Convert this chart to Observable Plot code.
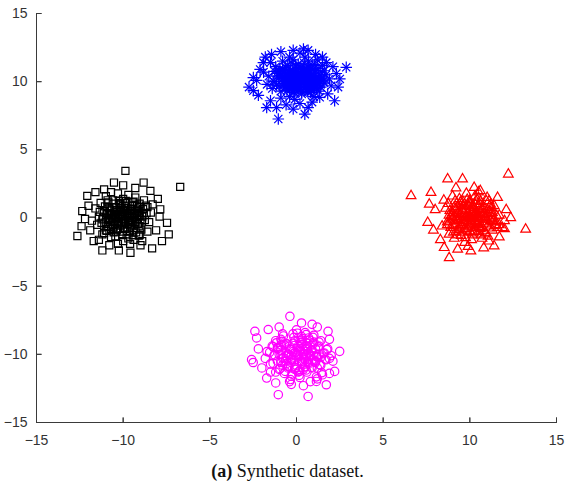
<!DOCTYPE html>
<html>
<head>
<meta charset="utf-8">
<script src="https://cdn.jsdelivr.net/npm/d3@7"></script>
<script src="https://cdn.jsdelivr.net/npm/@observablehq/plot@0.6"></script>
<style>
  body { margin: 0; background: #fff; }
  #wrap { width: 565px; }
  #cap { box-sizing: border-box; padding-left: 10px; text-align: center; font-family: "Liberation Serif", "Times New Roman", serif; font-size: 18px; line-height: 20px; margin-top: 11px; color: #111; }
</style>
</head>
<body>
<div id="wrap"><div id="chart"></div><div id="cap"><b>(a)</b> Synthetic dataset.</div></div>
<script>
const xTicks = [-15, -10, -5, 0, 5, 10, 15];
const yTicks = [-15, -10, -5, 0, 5, 10, 15];

// Blue asterisks (top cluster)
const blueX = [2.87,-2.49,-2.49,-2.74,-1.72,-1.05,-1.15,-0.19,0.48,0.67,2.2,2.4,2.0,-1.44,-0.19,0.67,1.72,-1.91,1.34,
  -2.1,-1.8,0.2,1.1,1.5,2.3,2.5,-2.2,-1.5,-0.6,0.9,1.8,-0.9,0.4,-2.3,
  0.1,-0.3,0.5,0.8,-0.7,0.2,-0.1,1.2,-1.1,0.6,-0.5,0.3,1.0,-0.9,1.4,-1.3,0.0,0.7,-0.4,1.6,-1.6,0.9,-0.2,1.3,-0.8,0.4,
  -0.6,1.1,0.2,-1.2,1.7,-0.3,0.6,-1.0,0.9,0.1,-1.4,1.5,-0.5,0.3,-0.1,1.9,-1.7,0.7,-0.8,1.2,0.0,-0.4,0.5,1.0,-1.9,0.8,
  -0.2,1.4,-1.5,0.2,-0.9,2.1,0.4,-0.6,
  0.15,-0.25,0.45,0.75,-0.55,0.35,-0.05,1.05,-0.85,0.55,-0.35,0.25,0.85,-0.65,1.25,-1.05,0.05,0.65,-0.15,1.35,
  -1.25,0.95,-0.05,1.15,-0.45,0.45,-0.75,0.95,0.15,-0.95,1.45,-0.15,0.55,-0.55,0.75,0.25,-1.15,1.25,-0.35,0.35,
  0.05,1.55,-1.35,0.65,-0.65,1.05,0.15,-0.25,0.45,0.85,-0.45,0.65,-0.1,1.15,-1.0,0.3,-0.7,1.6,0.5,-0.3,
  0.2,-0.1,0.6,0.9,-0.4,0.4,0.0,1.0,-0.6,0.7,-0.2,0.5,0.8,-0.5,1.1,-0.8,0.3,0.6,-0.3,1.2,
  -0.9,0.8,0.1,1.0,-0.2,0.5,-0.4,0.9,0.3,-0.7,1.3,0.0,0.6,-0.1,0.7,0.4,-0.6,1.1,-0.2,0.2];
const blueY = [11.05,10.3,9.34,9.6,8.1,7.26,8.1,7.99,7.62,8.1,8.6,9.6,9.7,12.0,12.3,12.3,11.4,11.4,8.85,
  10.9,11.8,12.1,12.0,11.8,10.6,10.2,9.0,8.6,8.3,8.5,9.1,12.2,12.4,10.1,
  10.2,10.5,9.8,10.4,9.9,11.0,9.4,10.1,10.6,10.9,11.2,9.1,9.5,9.3,10.7,10.0,10.7,11.5,8.9,9.9,10.4,11.2,11.6,9.3,10.9,10.3,
  9.6,10.8,9.6,11.1,10.5,10.0,9.4,9.7,9.9,11.3,9.5,11.2,10.3,10.6,8.7,10.2,9.8,10.1,11.5,11.6,9.9,11.8,11.8,8.9,10.7,9.2,
  9.2,9.6,11.4,8.4,8.8,11.1,10.9,10.6,
  10.05,10.35,9.95,10.25,10.15,10.75,9.75,10.45,10.45,10.55,10.85,9.45,9.65,9.55,10.15,10.25,10.45,11.05,9.25,9.85,
  10.75,10.85,11.15,9.45,10.65,10.15,9.85,10.05,9.85,10.95,10.35,10.15,9.65,9.35,9.85,11.05,9.75,10.95,10.45,10.45,
  9.55,10.05,10.05,10.35,11.05,11.25,10.25,11.35,11.35,9.35,9.75,9.25,10.6,9.75,10.6,9.25,10.3,10.8,10.7,9.6,
  10.1,10.3,9.9,10.2,10.0,10.6,9.8,10.4,10.3,10.6,10.7,9.6,9.8,9.7,10.0,10.2,10.4,10.9,9.5,9.9,
  10.6,10.7,11.0,9.7,10.5,10.2,9.9,10.1,9.9,10.8,10.3,10.1,9.7,9.6,9.9,10.9,9.9,10.8,10.5,10.4];

// Black squares (left cluster)
const blackX = [-9.87,-6.71,-8.82,-10.53,-12.07,-12.64,-11.2,-10.25,-9.58,-8.33,-7.76,-7.37,-7.47,-7.86,-8.43,-12.36,-12.2,-11.7,
  -11.6,-11.1,-9.3,-8.0,-12.0,-11.9,-10.8,-9.0,-8.1,-7.9,-10.0,-12.4,
  -10.0,-10.4,-9.6,-9.2,-10.8,-9.9,-10.2,-8.9,-11.1,-9.5,-10.6,-9.8,-9.0,-11.0,-8.7,-11.4,-10.1,-9.3,-10.7,-8.5,
  -11.3,-9.4,-10.3,-9.7,-10.5,-9.1,-11.5,-8.8,-10.9,-9.6,-10.0,-9.2,-11.2,-8.6,-10.2,-9.5,-10.8,-9.9,-11.6,-8.4,
  -10.4,-9.0,-10.6,-9.7,-11.0,-9.3,-10.1,-8.9,-11.8,-10.3,-9.8,-10.9,-9.4,-8.3,-10.7,-9.1,-10.5,-11.4,-9.6,-10.0,
  -10.05,-10.35,-9.65,-9.35,-10.65,-9.85,-10.15,-9.05,-10.95,-9.55,-10.55,-9.75,-9.15,-10.85,-8.85,-11.15,-10.25,-9.45,-10.55,-8.75,
  -11.05,-9.45,-10.25,-9.75,-10.45,-9.25,-11.25,-9.05,-10.75,-9.55,-10.05,-9.35,-10.95,-8.95,-10.15,-9.65,-10.65,-9.95,-11.35,-8.65,
  -10.35,-9.15,-10.75,-9.85,-10.85,-9.45,-10.15,-9.05,-11.2,-10.45,-9.9,-10.6,-9.3,-8.6,-10.9,-9.2,-10.5,-11.1,-9.7,-10.2,
  -9.9,-10.2,-9.7,-9.4,-10.5,-9.8,-10.1,-9.2,-10.7,-9.6,-10.4,-9.9,-9.3,-10.6,-9.1,-10.9,-10.0,-9.5,-10.3,-9.0,
  -10.8,-9.6,-10.1,-9.8,-10.3,-9.4,-11.0,-9.2,-10.5,-9.7,-10.0,-9.5,-10.7,-9.1,-10.2,-9.7,-10.4,-9.9,-10.9,-8.9];
const blackY = [3.46,2.28,2.6,2.6,1.62,-1.32,-2.38,-2.38,-2.55,-2.23,-1.69,-1.2,-0.35,0.64,1.99,0.51,-0.07,-1.69,
  1.9,2.1,2.2,1.4,0.9,-0.9,-2.0,-2.0,-0.9,0.1,2.4,-0.6,
  0.2,0.6,-0.3,0.4,-0.1,1.1,-0.8,0.1,0.5,0.9,1.3,-1.2,-0.7,-0.9,0.9,0.1,-0.4,1.5,-1.4,-0.3,
  1.1,-1.6,1.8,0.5,-0.3,-1.3,-0.5,1.3,0.8,-0.7,-1.7,-0.1,-1.2,-1.0,1.0,0.0,0.3,-0.1,0.7,0.4,
  -1.0,0.8,0.0,1.7,1.6,-0.4,0.7,-1.7,-0.2,-1.9,0.3,-0.6,1.2,1.0,1.9,0.2,0.4,-1.6,-1.9,1.4,
  0.15,0.45,-0.15,0.25,-0.05,0.85,-0.55,0.15,0.35,0.65,1.05,-0.95,-0.45,-0.65,0.65,0.05,-0.25,1.15,-1.05,-0.15,
  0.85,-1.25,1.25,0.35,-0.45,-1.05,-0.35,1.05,0.55,-0.55,-1.25,0.05,-0.95,-0.85,0.75,0.15,0.25,-0.35,0.45,0.35,
  -0.85,0.55,-0.25,1.25,1.15,-0.25,0.45,-1.25,-0.1,-1.35,0.55,-0.7,0.9,0.8,1.3,0.35,0.2,-1.1,-1.5,1.1,
  0.1,0.3,-0.2,0.3,0.0,0.7,-0.4,0.2,0.2,0.5,0.8,-0.8,-0.3,-0.5,0.5,0.0,-0.1,0.9,-0.8,-0.1,
  0.7,-1.0,1.0,0.2,-0.3,-0.9,-0.3,0.9,0.4,-0.4,-1.0,0.0,-0.8,-0.6,0.6,0.1,0.1,-0.2,0.3,0.2];

// Red triangles (right cluster)
const redX = [6.61,7.76,8.72,9.58,12.22,13.22,12.36,11.88,11.4,8.81,8.52,10.06,7.57,7.66,10.25,11.11,
  10.6,9.2,8.0,7.9,8.3,9.3,10.8,11.7,12.0,12.1,11.6,9.9,
  10.0,10.4,9.6,10.8,9.3,10.2,9.8,11.0,9.1,10.6,9.5,10.9,8.8,11.3,10.1,9.4,11.2,8.9,10.5,9.7,
  11.5,10.3,9.0,10.7,9.2,11.4,8.6,10.0,9.9,10.4,11.1,9.6,8.7,10.2,11.7,9.3,10.8,9.8,10.6,8.5,
  11.0,9.5,10.1,9.1,11.3,10.3,8.8,9.7,10.9,11.6,9.0,10.5,8.4,10.0,9.4,11.2,10.7,9.6,12.0,10.2,
  10.05,10.45,9.65,10.75,9.35,10.25,9.85,10.95,9.15,10.55,9.55,10.85,8.95,11.25,10.15,9.45,11.15,9.05,10.45,9.75,
  11.35,10.35,9.15,10.65,9.35,11.25,8.85,10.05,9.95,10.35,11.05,9.65,8.85,10.25,11.55,9.45,10.75,9.85,10.55,8.75,
  10.95,9.55,10.15,9.25,11.15,10.35,9.05,9.75,10.85,11.45,9.2,10.5,8.7,10.0,9.5,11.0,10.6,9.7,11.7,10.2,
  10.1,10.3,9.8,10.6,9.5,10.2,9.9,10.8,9.3,10.5,9.7,10.7,9.1,11.0,10.0,9.6,11.0,9.2,10.4,9.9,
  11.2,10.3,9.4,10.5,9.5,11.1,9.0,10.1,10.0,10.4,10.9,9.8,9.0,10.3,11.3,9.6,10.6,10.0,10.4,9.3];
const redY = [1.62,1.86,2.85,2.85,3.21,-0.83,0.02,-0.71,-2.06,-2.92,-2.18,-2.43,-0.34,1.0,2.23,1.25,
  2.0,2.2,0.6,-0.9,-1.6,-2.3,-2.2,-1.4,-0.2,0.6,1.5,-2.1,
  0.1,-0.4,0.5,0.3,-0.2,0.9,-0.9,-0.6,0.8,1.2,-1.3,-1.1,0.2,0.4,-1.6,1.4,1.0,-0.7,-0.1,0.0,
  -0.3,1.6,1.6,-1.5,-1.0,0.9,0.7,-0.6,1.0,0.4,-1.7,-0.5,-0.3,-1.1,0.2,0.3,0.8,1.8,-0.8,1.3,
  1.5,0.7,0.5,-1.5,-0.9,-0.3,-1.2,-1.8,0.0,-0.7,0.0,1.9,-0.6,1.3,-0.6,-0.2,0.6,1.2,-0.8,0.2,
  0.05,-0.35,0.35,0.25,-0.15,0.75,-0.75,-0.45,0.65,1.05,-1.05,-0.95,0.15,0.35,-1.25,1.15,0.85,-0.55,-0.05,0.05,
  -0.25,1.25,1.25,-1.25,-0.85,0.75,0.55,-0.45,0.85,0.35,-1.35,-0.35,-0.25,-0.95,0.15,0.25,0.65,1.35,-0.65,1.05,
  1.25,0.55,0.45,-1.25,-0.75,-0.25,-1.05,-1.45,0.05,-0.55,0.0,1.5,-0.5,1.1,-0.5,-0.1,0.4,1.0,-0.5,0.1,
  0.0,-0.2,0.2,0.1,-0.1,0.6,-0.6,-0.3,0.5,0.8,-0.8,-0.7,0.1,0.2,-1.0,0.9,0.6,-0.4,0.1,0.3,
  -0.1,1.0,1.0,-1.0,-0.6,0.5,0.4,-0.3,0.6,0.2,-1.1,-0.2,-0.1,-0.7,0.0,0.1,0.5,1.1,-0.5,0.8];

// Magenta circles (bottom cluster)
const magX = [-0.38,-2.4,-1.63,-2.59,-1.72,-1.05,0.67,1.72,2.2,2.49,1.82,0.29,1.15,-2.3,
  -2.2,-2.0,-1.2,-0.3,0.4,1.9,2.1,1.9,1.2,0.9,-1.0,-2.5,
  0.0,-0.4,0.5,0.9,-0.8,0.2,-0.1,1.2,-1.1,0.6,-0.5,0.3,1.0,-0.9,1.4,-1.3,0.1,0.7,-0.3,1.6,
  -1.5,0.9,-0.2,1.3,-0.7,0.4,-0.6,1.1,0.2,-1.2,1.7,-0.3,0.6,-1.0,0.8,0.0,-1.4,1.5,-0.5,0.3,
  -0.1,1.8,-1.7,0.7,-0.8,1.2,0.1,-0.4,0.5,1.0,-1.8,0.8,-0.2,1.4,-1.5,0.2,-0.9,2.0,0.4,-0.6,
  0.05,-0.35,0.45,0.85,-0.75,0.25,-0.05,1.15,-1.05,0.55,-0.45,0.35,0.95,-0.85,1.35,-1.25,0.15,0.75,-0.25,1.55,
  -1.35,0.85,-0.15,1.25,-0.65,0.45,-0.55,1.05,0.15,-1.15,1.65,-0.25,0.65,-0.95,0.75,0.05,-1.35,1.45,-0.45,0.35,
  -0.05,1.75,-1.55,0.65,-0.75,1.15,0.15,-0.35,0.55,0.95,-0.9,0.5,-0.1,1.3,-1.2,0.2,-0.6,1.9,0.4,-0.6,
  0.1,-0.2,0.4,0.7,-0.6,0.3,0.0,1.0,-0.9,0.5,-0.3,0.3,0.8,-0.7,1.1,-1.0,0.2,0.6,-0.1,1.3,
  -1.1,0.7,-0.1,1.1,-0.5,0.4,-0.4,0.9,0.2,-0.9,1.4,-0.2,0.6,-0.8,0.6,0.1,-1.1,1.2,-0.3,0.3];
const magY = [-7.21,-8.31,-8.18,-10.39,-11.74,-12.96,-13.09,-12.23,-11.25,-9.78,-8.31,-7.7,-11.99,-8.8,
  -9.6,-11.0,-12.1,-12.2,-12.3,-11.4,-10.5,-8.9,-8.0,-7.8,-8.0,-10.6,
  -10.1,-9.6,-10.4,-9.7,-10.3,-9.0,-11.0,-10.2,-9.5,-11.3,-10.9,-8.7,-9.1,-8.9,-10.8,-10.1,-9.4,-8.8,-11.6,-9.9,
  -10.7,-11.0,-8.5,-9.4,-11.4,-10.0,-9.2,-10.6,-11.7,-9.0,-10.4,-10.4,-9.4,-11.1,-10.1,-8.2,-9.4,-11.5,-10.0,-10.7,
  -9.9,-9.6,-9.8,-10.6,-8.5,-11.8,-11.3,-12.0,-8.4,-8.6,-10.3,-12.0,-9.2,-9.0,-11.3,-9.7,-10.0,-10.1,-11.1,-10.5,
  -10.05,-9.65,-10.35,-9.75,-10.25,-9.15,-10.95,-10.15,-9.55,-11.15,-10.85,-8.85,-9.25,-9.05,-10.75,-10.05,-9.45,-8.95,-11.45,-9.95,
  -10.65,-10.95,-8.75,-9.45,-11.25,-9.95,-9.25,-10.55,-11.55,-9.15,-10.35,-10.35,-9.45,-11.05,-10.15,-8.45,-9.45,-11.35,-10.05,-10.65,
  -9.85,-9.65,-9.85,-10.55,-8.65,-11.65,-11.25,-11.85,-8.55,-8.75,-10.6,-9.6,-10.4,-9.1,-11.3,-9.8,-9.9,-10.3,-11.0,-10.7,
  -10.0,-9.8,-10.2,-9.9,-10.1,-9.3,-10.8,-10.1,-9.7,-10.9,-10.6,-9.1,-9.4,-9.3,-10.5,-10.0,-9.6,-9.2,-11.1,-10.0,
  -10.5,-10.7,-9.0,-9.6,-11.0,-10.0,-9.4,-10.4,-11.2,-9.3,-10.2,-10.2,-9.6,-10.8,-10.1,-8.8,-9.6,-11.0,-10.1,-10.5];

const pts = (xs, ys) => xs.map((x, i) => ({x, y: ys[i]}));
const black = pts(blackX, blackY);
const red = pts(redX, redY);
const blue = pts(blueX, blueY);
const magenta = pts(magX, magY);

const axisColor = "#3a3a3a";
const sw = 1.2;

const chart = Plot.plot({
  width: 565,
  height: 450,
  marginLeft: 36,
  marginRight: 9,
  marginTop: 13,
  marginBottom: 28,
  style: {fontFamily: "'Liberation Sans', Arial, sans-serif", fontSize: "14px", background: "#fff"},
  x: {domain: [-15, 15]},
  y: {domain: [-15, 15]},
  marks: [
    Plot.dot(black, {x: "x", y: "y", symbol: "square", r: 4, fill: "none", stroke: "#000", strokeWidth: sw}),
    Plot.dot(red, {x: "x", y: "y", symbol: "triangle", r: 3.6, fill: "none", stroke: "#ff0000", strokeWidth: sw}),
    Plot.dot(blue, {x: "x", y: "y", symbol: "plus", r: 3.8, fill: "none", stroke: "#0000ff", strokeWidth: sw}),
    Plot.dot(blue, {x: "x", y: "y", symbol: "times", r: 3.8, fill: "none", stroke: "#0000ff", strokeWidth: sw}),
    Plot.dot(magenta, {x: "x", y: "y", symbol: "circle", r: 4.2, fill: "none", stroke: "#ff00ff", strokeWidth: sw}),
    Plot.ruleY([yTicks[0]], {stroke: axisColor, strokeWidth: 1}),
    Plot.ruleX([xTicks[0]], {stroke: axisColor, strokeWidth: 1}),
    Plot.vector(xTicks, {x: d => d, y: yTicks[0], length: 5, rotate: 0, anchor: "start", stroke: axisColor, strokeWidth: 1, shape: "spike", r: 0}),
    Plot.vector(yTicks, {x: xTicks[0], y: d => d, length: 5, rotate: 90, anchor: "start", stroke: axisColor, strokeWidth: 1, shape: "spike", r: 0}),
    Plot.axisX({ticks: xTicks, tickSize: 0, tickPadding: 13, color: "#333", label: null, fontSize: 14}),
    Plot.axisY({ticks: yTicks, tickSize: 0, tickPadding: 9, color: "#333", label: null, fontSize: 14})
  ]
});
document.getElementById("chart").appendChild(chart);
</script>
</body>
</html>
